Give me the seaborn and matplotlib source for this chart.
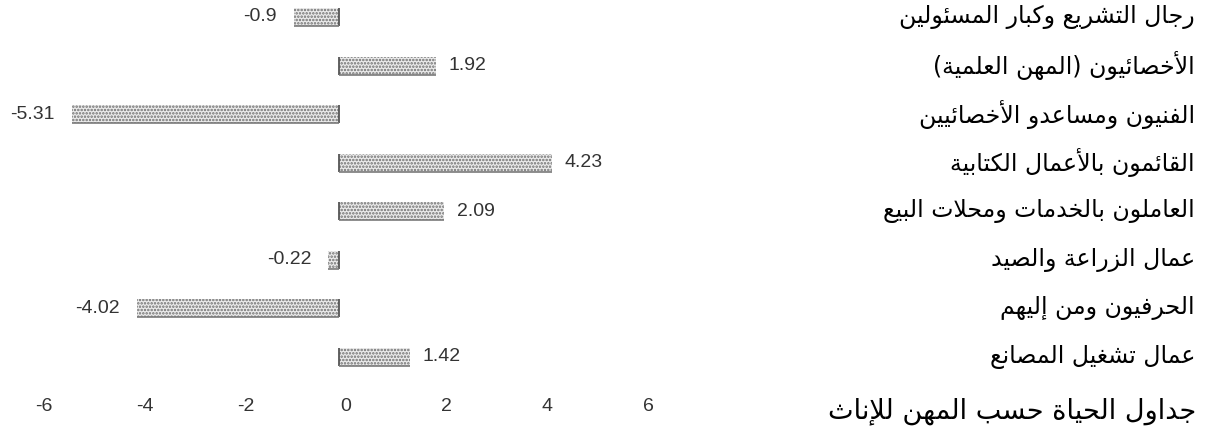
import matplotlib
matplotlib.use("Agg")
import matplotlib.pyplot as plt
import matplotlib.transforms as mtransforms
from matplotlib import font_manager
import pandas as pd
import seaborn as sns

# ---- data -------------------------------------------------------------
categories = [
    "رجال التشريع وكبار المسئولين",
    "الأخصائيون (المهن العلمية)",
    "الفنيون ومساعدو الأخصائيين",
    "القائمون بالأعمال الكتابية",
    "العاملون بالخدمات ومحلات البيع",
    "عمال الزراعة والصيد",
    "الحرفيون ومن إليهم",
    "عمال تشغيل المصانع",
]
values = [-0.9, 1.92, -5.31, 4.23, 2.09, -0.22, -4.02, 1.42]
value_labels = ["-0.9", "1.92", "-5.31", "4.23", "2.09", "-0.22", "-4.02", "1.42"]
x_ticks = [-6, -4, -2, 0, 2, 4, 6]
title = "جداول الحياة حسب المهن للإناث"

# ---- minimal Arabic shaping (matplotlib has no text shaper) -----------
_BASE = {
    "ء": (0xFE80, 1), "آ": (0xFE81, 2), "أ": (0xFE83, 2), "ؤ": (0xFE85, 2),
    "إ": (0xFE87, 2), "ئ": (0xFE89, 4), "ا": (0xFE8D, 2), "ب": (0xFE8F, 4),
    "ة": (0xFE93, 2), "ت": (0xFE95, 4), "ث": (0xFE99, 4), "ج": (0xFE9D, 4),
    "ح": (0xFEA1, 4), "خ": (0xFEA5, 4), "د": (0xFEA9, 2), "ذ": (0xFEAB, 2),
    "ر": (0xFEAD, 2), "ز": (0xFEAF, 2), "س": (0xFEB1, 4), "ش": (0xFEB5, 4),
    "ص": (0xFEB9, 4), "ض": (0xFEBD, 4), "ط": (0xFEC1, 4), "ظ": (0xFEC5, 4),
    "ع": (0xFEC9, 4), "غ": (0xFECD, 4), "ف": (0xFED1, 4), "ق": (0xFED5, 4),
    "ك": (0xFED9, 4), "ل": (0xFEDD, 4), "م": (0xFEE1, 4), "ن": (0xFEE5, 4),
    "ه": (0xFEE9, 4), "و": (0xFEED, 2), "ى": (0xFEEF, 2), "ي": (0xFEF1, 4),
}
_LAM_ALEF = {"ا": 0xFEFB, "أ": 0xFEF7, "إ": 0xFEF9, "آ": 0xFEF5}


def shape_ar(text):
    units = []
    i = 0
    while i < len(text):
        c = text[i]
        if c == "ل" and i + 1 < len(text) and text[i + 1] in _LAM_ALEF:
            units.append(("LA", text[i + 1]))
            i += 2
        else:
            units.append((c, None))
            i += 1

    def joins_prev(u):
        return u[0] == "LA" or (u[0] in _BASE and _BASE[u[0]][1] > 1)

    def dual(u):
        return u[0] in _BASE and _BASE[u[0]][1] == 4

    out = []
    for k, u in enumerate(units):
        prev = units[k - 1] if k > 0 else None
        nxt = units[k + 1] if k + 1 < len(units) else None
        p = prev is not None and dual(prev) and joins_prev(u)
        n = nxt is not None and dual(u) and joins_prev(nxt)
        if u[0] == "LA":
            out.append(chr(_LAM_ALEF[u[1]] + (1 if p else 0)))
        elif u[0] in _BASE:
            base, nforms = _BASE[u[0]]
            if nforms == 1:
                off = 0
            elif nforms == 2:
                off = 1 if p else 0
            else:
                off = 3 if (p and n) else 1 if p else 2 if n else 0
            out.append(chr(base + off))
        else:
            out.append(u[0])
    mirror = {"(": ")", ")": "("}
    return "".join(mirror.get(c, c) for c in reversed(out))


# ---- style ------------------------------------------------------------
sns.set_theme(style="white")
installed = {f.name for f in font_manager.fontManager.ttflist}
num_font = "Liberation Sans Narrow" if "Liberation Sans Narrow" in installed else "Liberation Sans"
plt.rcParams["font.family"] = ["DejaVu Sans"]
plt.rcParams["hatch.linewidth"] = 1.2

W, H = 1210, 443
fig = plt.figure(figsize=(W / 100, H / 100), dpi=100)
# data -6..6 spans x = 37..641 px; rows sit 48.5 px apart starting at y = 17 px
ax = fig.add_axes([37 / W, 1 - 381 / H, 604 / W, 381 / H])

df = pd.DataFrame({"occupation": categories, "value": values})
sns.barplot(data=df, x="value", y="occupation", orient="h", width=0.37,
            color="#ebebeb", saturation=1, ax=ax)

for patch in ax.patches:
    patch.set_hatch(".....")
    patch.set_edgecolor("#6e6e6e")
    patch.set_linewidth(0)
    y0, h = patch.get_y(), patch.get_height()
    x0, w = patch.get_x(), patch.get_width()
    # darker edge where each bar meets the zero line, and along its base
    ax.vlines(0, y0, y0 + h, color="#555555", lw=1.3)
    ax.hlines(y0 + h, x0, x0 + w, color="#7a7a7a", lw=1.2)

ax.set_xlim(-6, 6)
ax.set_ylim(len(categories) - 0.5, -0.35)

# value labels
for i, (v, lab) in enumerate(zip(values, value_labels)):
    ax.annotate(lab, xy=(v, i), xytext=(9 if v > 0 else -12, 0),
                textcoords="offset points", ha="left" if v > 0 else "right",
                va="center", fontsize=14, family=num_font, color="#333333",
                annotation_clip=False)

# x axis: labels sit a little to the right of their tick positions
ax.set_xticks(x_ticks)
ax.set_xticklabels([str(t) for t in x_ticks], family=num_font, fontsize=14, color="#333333")
ax.tick_params(axis="x", length=0, pad=12)
shift = mtransforms.ScaledTranslation(7 / 100, 0, fig.dpi_scale_trans)
for lbl in ax.get_xticklabels():
    lbl.set_transform(lbl.get_transform() + shift)
ax.set_yticks([])
ax.set_xlabel("")
ax.set_ylabel("")
for s in ax.spines.values():
    s.set_visible(False)

# category names on the right
trans = mtransforms.blended_transform_factory(fig.transFigure, ax.transData)
for i, name in enumerate(categories):
    ax.text(1195 / W, i, shape_ar(name), transform=trans, ha="right", va="center",
            fontsize=17, color="#000000", clip_on=False)

fig.text(1196 / W, 1 - 411 / H, shape_ar(title), ha="right", va="center",
         fontsize=19.5, color="#000000")

fig.savefig("out.png", dpi=100)
